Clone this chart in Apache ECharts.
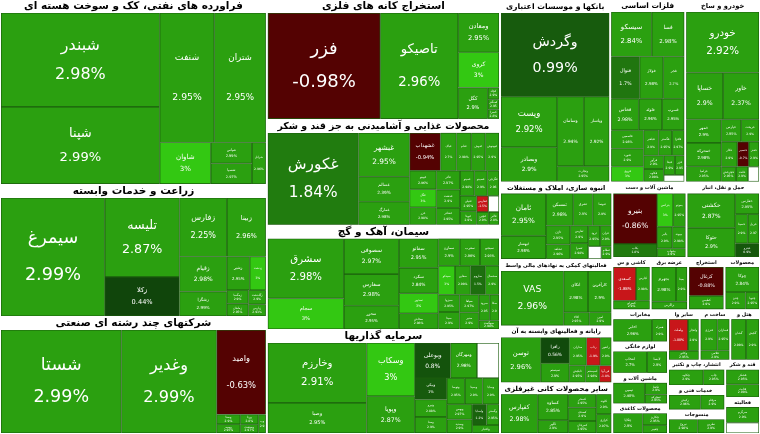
<!DOCTYPE html>
<html><head><meta charset="utf-8">
<script src="https://cdn.jsdelivr.net/npm/echarts/dist/echarts.min.js"></script>
<style>html,body{margin:0;padding:0;background:#fff}#c{width:760px;height:434px}</style>
</head><body><div id="c"></div>
<script>
const sectorNames = [
 'فراورده های نفتی، کک و سوخت هسته ای','زراعت و خدمات وابسته','شرکتهای چند رشته ای صنعتی',
 'استخراج کانه های فلزی','محصولات غذایی و آشامیدنی به جز قند و شکر','سیمان، آهک و گچ','سرمایه گذاریها',
 'بانکها و موسسات اعتباری','فلزات اساسی','خودرو و ساخت قطعات',
 'انبوه سازی، املاک و مستغلات','فعالیتهای کمکی به نهادهای مالی واسط','رایانه و فعالیتهای وابسته به آن','سایر محصولات کانی غیرفلزی',
 'ماشین آلات و دستگاههای برقی','حمل و نقل، انبارداری و ارتباطات',
 'کاشی و سرامیک','عرضه برق، گاز، بخاروآب گرم','استخراج زغال سنگ','محصولات چوبی','مخابرات','لوازم خانگی',
 'ماشین آلات و تجهیزات','محصولات کاغذی','سایر واسطه گریهای مالی','ساخت محصولات فلزی','هتل و رستوران',
 'انتشار، چاپ و تکثیر','خدمات فنی و مهندسی','منسوجات','قند و شکر','فعالیتهای هنری، سرگرمی و خلاقانه'
];
const leafNames = [
 ['شبندر','شپنا','شنفت','شتران','شاوان','شسپا','شپاس','شرانل'],
 ['سیمرغ','تلیسه','زکلا','زفارس','زبینا','زقیام','زشگزا','زشیر','زدشت','زمگسا','زماهان','زگلدشت','زپارس'],
 ['شستا','وغدیر','وامید','وصنا','وسپه','ورنا','وصنعت','وپخش'],
 ['فزر','تاصیکو','ومعادن','کروی','کگل','کچاد','کمنگنز','کسرا'],
 ['غکورش','غبشهر','غسالم','غشهداب','غمارگ','غپاک','غدام','غنوش','غبهنوش','غپینو','غگل','غزر','غاذر','غدشت','غشاذر','غمینو','غصینو','غگرجی','غنیلی','غویتا','غفارس','غشصفا','غچین','غالبر'],
 ['سشرق','سجام','سصوفی','سفارس','سخزر','سفانو','سکرد','سدور','سیتا','سخاش','سمازن','سغرب','سبجنو','سیدکو','سقاین','ساروم','سشمال','سبزوا','سپاها','سنیر','سرود','سکارون','سهگمت'],
 ['وخارزم','وصبا','وسکاب','وپویا','وبوعلی','ومهرگان','وآفری','ونیکی','ونیرو','وسنا','وتوصا','وسینا','وساپا','وبهمن','وسدید','ولساپا','وگستر','واعتبار'],
 ['وگردش','وپست','وبصادر','وسامان','وپاسار','وتجارت'],
 ['سیسکو','فسا','فنوال','فولاژ','فجر','فخاس','فلوله','فسرب','فاسمین','فنورد','فروی','فباهنر','فگستر','فافزا','فرآور','فکاوه','فپنتا','فزرین','فجام'],
 ['خودرو','خساپا','خاور','خمحرکه','خمهر','خزامیا','خپارس','خکار','خریخت','خنصیر','خفنر','خچرخش','خلنت','خعمرا'],
 ['ثامان','ثبهساز','ثمسکن','ثشرق','ثنوسا','ثاژن','ثشاهد','ثفارس','ثعمرا','ثرود','ثتران','ثپردیس','ثنظام'],
 ['VAS','اتکای','کارآفرین','اکالا','امین'],
 ['توسن','رافزا','سیستم','مداران','رتاپ','رانفور','تاپکیش','اسیستم','فن آوا'],
 ['کفپارس','کساوه','کگهر','کصدف','کسحر','کمرجان','کلوند','کرازی'],
 ['بنیرو','بکاب','بترانس','بموتو','بالبر','بپیوند','بشهاب'],
 ['حکشتی','حتوکا','حفارس','حسینا','حپترو','حریل'],
 ['کسعدی','کپارس','کسرام'],
 ['بجهرم','بمپنا','بزاگرس'],
 ['کزغال','کطبس'],
 ['چوکا','چدن','چنوپا'],
 ['اخابر','همراه'],
 ['انتخاب','لابسا'],
 ['تپمپی','تکشا','تمحرکه'],
 ['چکاپا','چکارن','چفیبر'],
 ['ولملت','ولتجار','وکادو'],
 ['فنرژی','فسازان','فلامی'],
 ['گشان','گکیش'],
 ['چکاوه','چاپ'],
 ['رکیش','مرقام'],
 ['نبروج','نطرین'],
 ['قشکر','قثابت'],
 ['سرگرم','آسیاتک']
];
const leafSizes = [
 [16250,13340,7700,7280,2310,920,940,630],
 [13810,6650,3290,3130,2570,1870,1300,870,610,330,300,280,230],
 [14200,11220,4770,260,240,200,180,160],
 [13600,9420,1830,1650,1060,150,130,120],
 [9670,2600,1490,1360,1360,700,650,620,600,580,560,540,520,500,460,420,380,340,300,260,220,200,180,150],
 [5300,2710,2270,2030,1490,1340,1170,920,420,720,680,640,600,560,520,500,460,430,400,370,330,280,200],
 [6900,3460,2990,2070,1460,1080,900,800,650,600,550,540,500,450,400,350,300,250],
 [10000,3120,2130,2050,1940,880],
 [2000,1600,1330,1100,980,960,810,770,660,640,540,420,380,340,300,280,240,200,150],
 [4880,1910,1860,910,910,590,490,440,440,320,280,240,200,180],
 [2300,1250,1050,750,720,550,420,380,340,300,280,200,150],
 [4250,1250,1200,420,360],
 [2300,950,700,620,500,400,350,300,260],
 [1900,1050,520,500,500,450,400,380],
 [2700,700,650,500,400,350,300],
 [2000,1700,600,450,400,400],
 [1000,600,400],[1100,500,350],[1300,600],[1100,450,300],[1300,500],[1100,650],
 [1000,400,300],[900,450,300],[800,450,350],[700,500,350],[800,700],[900,550],
 [800,600],[700,650],[700,600],[750,500]
];
const leafChanges = [
 [2.98,2.99,2.95,2.95,3,2.97,2.99,2.96],
 [2.99,2.87,0.44,2.25,2.96,2.98,2.99,2.95,3,2.9,2.95,2.9,2.93],
 [2.99,2.99,-0.63,2.9,2.95,2.8,2.97,2.9],
 [-0.98,2.96,2.95,3,2.9,2.9,2.95,2.8],
 [1.84,2.95,2.39,-0.94,2.98,2.7,2.98,2.95,2.9,2.96,3,2.98,2.97,2.9,2.95,2.98,2.9,2.96,2.95,2.9,-1.5,null,2.9,2.8],
 [2.98,3,2.97,2.98,2.95,2.95,2.84,3,2.9,2.98,2.9,2.96,2.95,3,2.98,1.5,2.9,2.95,2.97,2.9,2.95,2.9,2.98],
 [2.91,2.95,3,2.87,0.8,2.98,null,1,2.88,2.9,2.95,2.9,2.9,2.97,2.9,1.2,2.95,2.9],
 [0.99,2.92,2.9,2.94,2.92,2.95],
 [2.84,2.98,1.7,2.98,2.7,2.98,2.96,2.95,2.98,2.9,3,2.9,2.95,2.97,2.9,2.98,2.9,2.95,null],
 [2.92,2.9,2.37,2.98,2.9,2.95,2.95,2.9,2.9,-0.7,2.9,2.95,2.9,null],
 [2.95,2.98,2.98,2.9,2.9,2.95,2.96,2.9,2.98,2.95,2.9,null,2.9],
 [2.96,2.98,2.9,2.95,2.9],
 [2.96,0.56,2.9,2.95,-1.9,2.9,2.95,2.98,-1.8],
 [2.98,2.85,2.9,2.9,2.95,2.95,2.9,2.97],
 [-0.86,1.8,3,2.95,2.9,2.98,2.9],
 [2.87,2.9,2.95,2.9,0.9,2.97],
 [-1.88,2.98,2.9],[2.98,2.9,2.95],[-0.88,2.9],[2.84,2.9,2.95],[2.96,2.9],[2.7,2.9],
 [2.98,2.9,2.95],[2.9,2.95,2.9],[-1.88,2.9,2.95],[2.9,2.95,2.9],[2.98,2.9],[2.9,2.95],
 [2.96,2.9],[2.98,2.9],[2.95,2.98],[2.9,null]
];

const FONT = 'DejaVu Sans';
function mix(a, b, t) { return 'rgb(' + a.map((v, i) => Math.round(v + (b[i] - v) * t)).join(',') + ')'; }
function colorOf(c) {
  if (c == null) return '#ffffff';
  if (c >= 2.995) return '#33c812';
  if (c >= 2.2) return '#2ba010';
  if (c >= 0) return mix([10, 52, 10], [38, 138, 16], c / 2.2);
  if (c > -1.4) return '#540202';
  return '#c8161a';
}
function pctText(c) { return c == null ? '' : String(c) + '%'; }

function buildData(layoutMap) {
  return sectorNames.map((sn, si) => {
    const total = leafSizes[si].reduce((a, b) => a + b, 0);
    let h, fs;
    if (total >= 20000) { h = 13; fs = 10.5; }
    else if (total >= 13000) { h = 12; fs = 7.5; }
    else if (total >= 4000) { h = 11; fs = 7; }
    else { h = 9; fs = 5; }
    if (layoutMap && layoutMap[sn] && total >= 4000) {
      const fit = layoutMap[sn].width / (sn.length * 0.62);
      fs = Math.max(5, Math.min(fs, fit));
    }
    return {
      name: sn,
      isSector: true,
      upperLabel: { show: true, height: h, fontSize: fs },
      children: leafNames[si].map((ln, li) => {
        const c = leafChanges[si][li];
        const item = {
          name: ln,
          value: leafSizes[si][li],
          change: c,
          itemStyle: { color: colorOf(c) }
        };
        if (layoutMap && layoutMap[ln]) {
          const l = layoutMap[ln];
          const m = Math.min(l.width, l.height);
          const f = Math.max(3, Math.min(18, m * 0.17));
          const lh = Math.max(f * 1.15, l.height * 0.31);
          item.label = { fontSize: f, lineHeight: lh };
        }
        return item;
      })
    };
  });
}

function fmt(p) {
  const d = p.data || {};
  if (d.isSector) return p.name;
  if (d.change == null) return '';
  return p.name + '\n' + pctText(d.change);
}

function makeOption(data) {
  return {
    animation: false,
    series: [{
      type: 'treemap',
      left: 0, top: 0, width: 760, height: 434,
      roam: false, nodeClick: false,
      breadcrumb: { show: false },
      visibleMin: 1,
      label: {
        show: true, position: 'inside', color: '#ffffff', fontFamily: FONT,
        padding: 0, fontSize: 6, lineHeight: 8, overflow: 'truncate', ellipsis: '',
        formatter: fmt
      },
      upperLabel: {
        show: false, height: 13, color: '#000', fontFamily: FONT, fontWeight: 'bold',
        position: 'inside', align: 'center', overflow: 'truncate', ellipsis: '',
        formatter: fmt
      },
      levels: [
        { itemStyle: { borderWidth: 0, gapWidth: 0, borderColor: '#ffffff' }, upperLabel: { show: false } },
        { itemStyle: { borderWidth: 1, gapWidth: 0, borderColor: '#ffffff' } },
        { itemStyle: { borderWidth: 0.6, gapWidth: 0, borderColor: '#1b5c0d' } }
      ],
      data: data
    }]
  };
}

const chart = echarts.init(document.getElementById('c'), null, { renderer: 'canvas' });
chart.setOption(makeOption(buildData(null)));
try {
  const sd = chart.getModel().getSeriesByIndex(0).getData();
  const map = {};
  for (let i = 0; i < sd.count(); i++) {
    const l = sd.getItemLayout(i);
    if (l) map[sd.getName(i)] = l;
  }
  chart.setOption(makeOption(buildData(map)));
} catch (e) { console.log(e); }
</script>
</body></html>
